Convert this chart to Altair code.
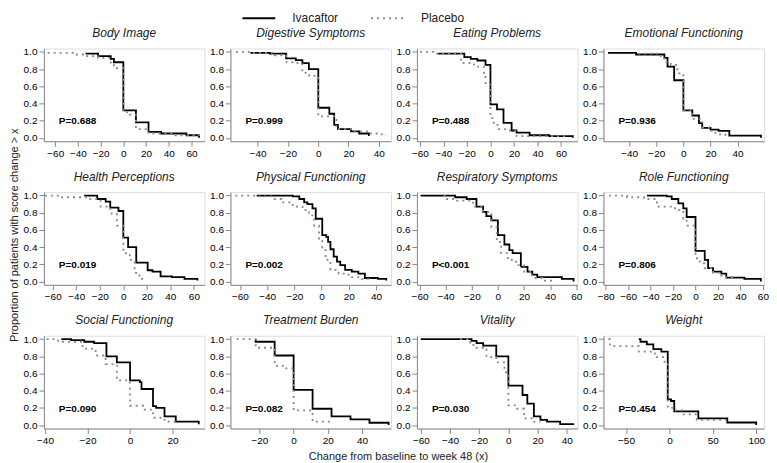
import altair as alt
import pandas as pd

SERIES = ["Ivacaftor", "Placebo"]
SERIES_COLORS = ["#000000", "#8a8a8a"]

PANEL_TITLES = [
    "Body Image", "Digestive Symptoms", "Eating Problems", "Emotional Functioning",
    "Health Perceptions", "Physical Functioning", "Respiratory Symptoms", "Role Functioning",
    "Social Functioning", "Treatment Burden", "Vitality", "Weight",
]
P_LABELS = [
    "P=0.688", "P=0.999", "P=0.488", "P=0.936",
    "P=0.019", "P=0.002", "P<0.001", "P=0.806",
    "P=0.090", "P=0.082", "P=0.030", "P=0.454",
]
Y_TITLE = "Proportion of patients with score change > x"
X_TITLE = "Change from baseline to week 48 (x)"

# x-axis ranges and tick labels per panel
X_DOMAINS = [
    [-70, 71.5], [-58, 48], [-62.5, 74], [-59, 59.5],
    [-67.5, 69], [-67, 51], [-62, 61], [-82, 61],
    [-40.5, 35], [-37, 57], [-62.7, 47.4], [-76, 109],
]
X_TICKS = [
    [-60, -40, -20, 0, 20, 40, 60], [-40, -20, 0, 20, 40], [-60, -40, -20, 0, 20, 40, 60], [-40, -20, 0, 20, 40],
    [-60, -40, -20, 0, 20, 40, 60], [-60, -40, -20, 0, 20, 40], [-60, -40, -20, 0, 20, 40, 60], [-80, -60, -40, -20, 0, 20, 40, 60],
    [-40, -20, 0, 20], [-20, 0, 20, 40], [-60, -40, -20, 0, 20, 40], [-50, 0, 50, 100],
]
Y_TICKS = [0.0, 0.2, 0.4, 0.6, 0.8, 1.0]
Y_DOMAIN = [-0.04, 1.04]
P_LABEL_LEVEL = 0.19

# Body Image
BI_IVA_X = [-33.3, -22.2, -11.1, -8.3, 0, 11.1, 22.2, 33.3, 55.6, 66.7]
BI_IVA_Y = [0.98, 0.95, 0.92, 0.88, 0.32, 0.18, 0.07, 0.05, 0.03, 0.0]
BI_PBO_X = [-66.7, -44.4, -33.3, -22.2, -11.1, -8.3, 0, 5.6, 11.1, 22.2, 44.4, 66.7]
BI_PBO_Y = [0.99, 0.97, 0.95, 0.93, 0.86, 0.81, 0.30, 0.27, 0.10, 0.05, 0.03, 0.02]
# Digestive Symptoms
DS_IVA_X = [-44.8, -31.9, -21.2, -14.8, -10.5, -6.2, 0, 7.3, 10.5, 13, 21.6, 27, 33.4]
DS_IVA_Y = [0.99, 0.98, 0.925, 0.905, 0.87, 0.80, 0.35, 0.28, 0.15, 0.10, 0.075, 0.05, 0.02]
DS_PBO_X = [-54.4, -44.4, -28.7, -21, -14.8, -10.5, -6, -1.5, 0, 12, 21.6, 33.4, 39.8, 44.4]
DS_PBO_Y = [1.0, 0.99, 0.96, 0.88, 0.87, 0.755, 0.72, 0.70, 0.25, 0.10, 0.075, 0.05, 0.04, 0.02]
# Eating Problems
EP_IVA_X = [-44.4, -22.2, -16.7, -11.1, -4.2, 0, 5.6, 11.1, 18, 22.2, 33.3, 50, 70]
EP_IVA_Y = [0.98, 0.94, 0.92, 0.90, 0.85, 0.39, 0.33, 0.175, 0.085, 0.06, 0.03, 0.02, 0.0]
EP_PBO_X = [-60, -48.6, -25, -13.9, -5.6, -4.2, 0, 2.8, 7, 16.7, 22.2, 66.7]
EP_PBO_Y = [1.0, 0.98, 0.87, 0.83, 0.73, 0.62, 0.23, 0.15, 0.10, 0.08, 0.02, 0.02]
# Emotional Functioning
EF_IVA_X = [-55.6, -34.9, -14, -11.7, -6.8, 0, 6.6, 11.5, 13.9, 20, 26, 33.9, 57.3]
EF_IVA_Y = [0.99, 0.97, 0.93, 0.83, 0.67, 0.32, 0.26, 0.17, 0.115, 0.095, 0.08, 0.025, 0.0]
EF_PBO_X = [-33.3, -17.8, -14, -9.3, -4.4, 0, 6.6, 13.9, 20, 23.7, 31]
EF_PBO_Y = [0.98, 0.95, 0.88, 0.85, 0.75, 0.32, 0.22, 0.12, 0.08, 0.04, 0.02]
# Health Perceptions
HP_IVA_X = [-33.3, -22.2, -15, -11.1, -4.1, 0, 4.1, 11, 20.7, 24.8, 31.7, 41.3, 52, 63]
HP_IVA_Y = [1.0, 0.96, 0.93, 0.86, 0.82, 0.51, 0.40, 0.22, 0.13, 0.115, 0.06, 0.05, 0.03, 0.01]
HP_PBO_X = [-66.7, -52, -31.7, -19.3, -11, -5.5, 0, 5.5, 9.6, 13.8, 19.3]
HP_PBO_Y = [1.0, 0.98, 0.96, 0.87, 0.79, 0.65, 0.33, 0.25, 0.10, 0.03, 0.03]
# Physical Functioning
PF_IVA_X = [-47.7, -21.2, -16.4, -12.8, -10.4, -6.7, -4.3, 0.5, 3.4, 4.8, 6.5, 8.9, 11.3, 13.7, 17.3, 22.2, 27, 31.8, 41.4, 47.5]
PF_IVA_Y = [1.0, 0.99, 0.96, 0.92, 0.90, 0.85, 0.73, 0.54, 0.52, 0.46, 0.375, 0.29, 0.23, 0.19, 0.135, 0.115, 0.09, 0.04, 0.03, 0.01]
PF_PBO_X = [-63.4, -46.5, -35.7, -29.6, -21.2, -14, -9.2, -5.5, -1.9, 0.5, 2.9, 6.5, 12.5, 19.8, 29.4, 34.2]
PF_PBO_Y = [1.0, 0.99, 0.96, 0.92, 0.87, 0.83, 0.77, 0.65, 0.50, 0.365, 0.25, 0.135, 0.09, 0.05, 0.03, 0.02]
# Respiratory Symptoms
RS_IVA_X = [-59.2, -32.7, -23.9, -16.4, -11.3, -8.8, -5, 0, 5, 8.8, 11.3, 17.6, 22.7, 26.4, 30.2, 49, 58]
RS_IVA_Y = [1.0, 0.98, 0.96, 0.87, 0.81, 0.76, 0.71, 0.54, 0.43, 0.365, 0.33, 0.17, 0.115, 0.08, 0.05, 0.03, 0.0]
RS_PBO_X = [-41.6, -39, -31.5, -18.9, -11.3, -5, -0.8, 2.5, 7.6, 13.9, 20, 26.4, 34, 44]
RS_PBO_Y = [1.0, 0.96, 0.94, 0.87, 0.81, 0.63, 0.46, 0.33, 0.25, 0.19, 0.115, 0.04, 0.01, 0.01]
# Role Functioning
RF_IVA_X = [-43.2, -25.6, -21.2, -15.3, -10.9, -7.9, 0, 8.2, 11.2, 15.6, 23, 27.4, 43.5, 58.2]
RF_IVA_Y = [1.0, 0.99, 0.96, 0.91, 0.85, 0.75, 0.355, 0.25, 0.155, 0.115, 0.09, 0.045, 0.03, 0.0]
RF_PBO_X = [-77, -61, -46, -34.4, -18.2, -10.9, -7.9, 0, 3.8, 8.2, 15.6, 23, 34.7]
RF_PBO_Y = [1.0, 0.98, 0.96, 0.87, 0.83, 0.73, 0.65, 0.27, 0.21, 0.155, 0.10, 0.05, 0.03]
# Social Functioning
SF_IVA_X = [-32.3, -27.7, -21.5, -16.9, -11.1, -6.2, 0, 4.6, 5.4, 10.8, 12.3, 16.2, 21.5, 32.3]
SF_IVA_Y = [1.0, 0.99, 0.97, 0.955, 0.80, 0.73, 0.52, 0.50, 0.42, 0.22, 0.20, 0.10, 0.04, 0.01]
SF_PBO_X = [-39.2, -33.8, -22.3, -16.2, -11.5, -6.2, 0, 6.2, 10.8, 16.2, 21.5]
SF_PBO_Y = [1.0, 0.97, 0.89, 0.81, 0.71, 0.52, 0.225, 0.18, 0.085, 0.04, 0.04]
# Treatment Burden
TB_IVA_X = [-22.2, -22.2, -11.1, 0, 11.1, 22.2, 33.3, 44.4, 55.6]
TB_IVA_Y = [1.0, 0.97, 0.81, 0.41, 0.19, 0.10, 0.065, 0.027, 0.0]
TB_PBO_X = [-33.3, -22.2, -11.1, -5.6, 0, 11.1, 22.2]
TB_PBO_Y = [1.0, 0.90, 0.69, 0.66, 0.17, 0.04, 0.04]
# Vitality
VT_IVA_X = [-60, -25.2, -21.8, -17.3, -8.3, 0, 9.7, 13, 17.5, 22, 26.5, 35.5, 44.5]
VT_IVA_Y = [1.0, 0.98, 0.955, 0.925, 0.80, 0.46, 0.35, 0.25, 0.10, 0.06, 0.04, 0.012, 0.0]
VT_PBO_X = [-33, -26.3, -24, -17.3, -15, -8.3, -2.7, 0, 5.2, 10.8, 16.4, 22]
VT_PBO_Y = [1.0, 0.96, 0.90, 0.885, 0.79, 0.73, 0.615, 0.23, 0.19, 0.077, 0.04, 0.04]
# Weight
WT_IVA_X = [-35.2, -33.3, -26, -18.5, -9.3, -1.9, 1.9, 5.6, 33.3, 66.7, 100]
WT_IVA_Y = [1.0, 0.97, 0.94, 0.885, 0.855, 0.30, 0.28, 0.16, 0.077, 0.03, 0.0]
WT_PBO_X = [-70.4, -68.5, -35.2, -16.7, -5.6, -1.9, 3.7, 14.8, 31.5, 65]
WT_PBO_Y = [1.0, 0.92, 0.855, 0.79, 0.71, 0.20, 0.17, 0.125, 0.06, 0.06]

CURVES = [
    (BI_IVA_X, BI_IVA_Y, BI_PBO_X, BI_PBO_Y),
    (DS_IVA_X, DS_IVA_Y, DS_PBO_X, DS_PBO_Y),
    (EP_IVA_X, EP_IVA_Y, EP_PBO_X, EP_PBO_Y),
    (EF_IVA_X, EF_IVA_Y, EF_PBO_X, EF_PBO_Y),
    (HP_IVA_X, HP_IVA_Y, HP_PBO_X, HP_PBO_Y),
    (PF_IVA_X, PF_IVA_Y, PF_PBO_X, PF_PBO_Y),
    (RS_IVA_X, RS_IVA_Y, RS_PBO_X, RS_PBO_Y),
    (RF_IVA_X, RF_IVA_Y, RF_PBO_X, RF_PBO_Y),
    (SF_IVA_X, SF_IVA_Y, SF_PBO_X, SF_PBO_Y),
    (TB_IVA_X, TB_IVA_Y, TB_PBO_X, TB_PBO_Y),
    (VT_IVA_X, VT_IVA_Y, VT_PBO_X, VT_PBO_Y),
    (WT_IVA_X, WT_IVA_Y, WT_PBO_X, WT_PBO_Y),
]

FONT = "Liberation Sans"
PANEL_W = 161
PANEL_H = 93
COL_GAP = 26

legend = alt.Legend(
    title=None, orient="none", direction="horizontal", legendX=206, legendY=-40,
    symbolType="M-2,0H2", symbolSize=270, symbolStrokeWidth=2, labelFontSize=12,
    labelFont=FONT, labelColor="#222", labelOffset=24, columnPadding=28,
)


def make_panel(k):
    ivx, ivy, pbx, pby = CURVES[k]
    rows = []
    for s, xs, ys in ((SERIES[0], ivx, ivy), (SERIES[1], pbx, pby)):
        for i, (xv, yv) in enumerate(zip(xs, ys)):
            rows.append({"series": s, "x": xv, "y": yv, "i": i})
    df = pd.DataFrame(rows)
    xaxis_kwargs = dict(values=X_TICKS[k], labelFlush=False, labelOverlap=False, grid=False)
    if k == 9:
        # shared x title, centred under the whole grid
        xaxis = alt.Axis(title=X_TITLE, titleFontSize=11, titleFontWeight="normal", titleColor="#222",
                         titleFont=FONT, titleX=PANEL_W + COL_GAP / 2 - 6, titleAlign="center",
                         titlePadding=5, **xaxis_kwargs)
    else:
        xaxis = alt.Axis(title=None, **xaxis_kwargs)
    lines = alt.Chart(df).mark_line(interpolate="step-after", strokeWidth=1.8, strokeCap="butt").encode(
        x=alt.X("x:Q", scale=alt.Scale(domain=X_DOMAINS[k], nice=False, zero=False), axis=xaxis),
        y=alt.Y("y:Q", scale=alt.Scale(domain=Y_DOMAIN, nice=False, zero=False),
                axis=alt.Axis(title=None, values=Y_TICKS, format=".1f", labelFlush=False,
                              labelOverlap=False, tickCount=6, grid=False)),
        color=alt.Color("series:N", scale=alt.Scale(domain=SERIES, range=SERIES_COLORS), legend=legend),
        strokeDash=alt.StrokeDash("series:N", scale=alt.Scale(domain=SERIES, range=[[1, 0], [2, 4]]), legend=legend),
        order=alt.Order("i:Q"),
    )
    p_y = PANEL_H * (Y_DOMAIN[1] - P_LABEL_LEVEL) / (Y_DOMAIN[1] - Y_DOMAIN[0])
    ptext = alt.Chart(pd.DataFrame({"p": [P_LABELS[k]]})).mark_text(
        align="left", baseline="middle", fontWeight="bold", fontSize=10, font=FONT, color="#000"
    ).encode(x=alt.value(15), y=alt.value(p_y), text="p:N")
    return alt.layer(lines, ptext).properties(
        width=PANEL_W, height=PANEL_H,
        title=alt.TitleParams(PANEL_TITLES[k], fontStyle="italic", fontSize=12, font=FONT,
                              fontWeight="normal", color="#222", offset=7),
    )


panels = [make_panel(k) for k in range(12)]

chart = alt.ConcatChart(
    concat=panels, columns=4, spacing=alt.RowColnumber(row=51, column=COL_GAP), bounds="flush",
).properties(
    title=alt.TitleParams(Y_TITLE, orient="left", anchor="middle",
                          fontSize=11, fontWeight="normal", font=FONT, color="#222", offset=3),
    padding=0,
).configure_view(stroke="#7a7a7a", strokeWidth=1).configure_axis(
    grid=False, domain=False, labelFont=FONT, labelFontSize=10, labelColor="#444",
    tickColor="#444", tickSize=5, labelPadding=2, labelOverlap=False,
).configure(background="white")

chart.save("out.html", embed_options={"renderer": "svg", "actions": False})
